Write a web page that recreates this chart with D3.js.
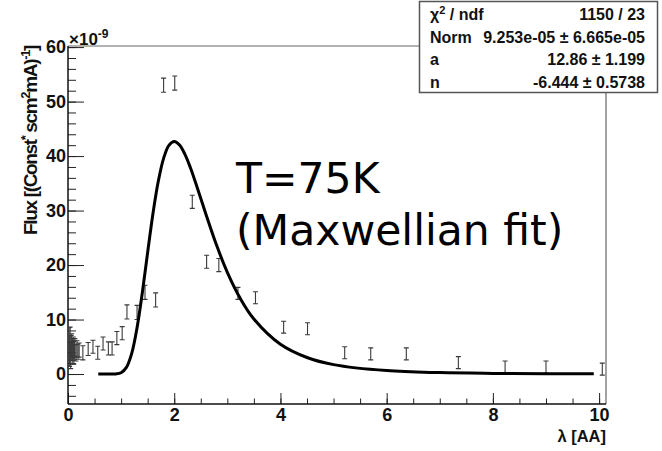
<!DOCTYPE html>
<html><head><meta charset="utf-8">
<script src="https://cdn.jsdelivr.net/npm/d3@7"></script>
<style>body{margin:0;background:#fff;} svg{display:block;}</style>
</head><body>
<svg id="chart" width="662" height="451"></svg>
<script>
// ---- data ----
const pointX = [0.02,0.03,0.04,0.05,0.06,0.07,0.08,0.09,0.10,0.11,0.12,0.13,0.15,0.17,0.19,
                0.21,0.28,0.38,0.47,0.56,0.66,0.76,0.83,0.92,1.02,1.11,1.30,1.45,1.65,1.80,2.01,
                2.34,2.61,2.84,3.20,3.53,4.06,4.51,5.21,5.70,6.37,7.35,8.23,9.00,10.06];
const pointY = [5.5,4.2,6.0,3.5,4.8,5.2,3.8,4.5,5.0,3.6,4.4,4.9,3.9,4.6,4.1,
                4.4,3.9,4.6,5.0,3.9,5.6,4.7,4.7,6.6,7.5,11.4,11.3,15.0,13.6,53.0,53.4,
                31.6,20.6,20.0,14.8,14.0,8.6,8.3,3.9,3.7,3.7,2.1,1.3,1.3,0.9];
const pointErr = [3.0,2.8,2.6,2.5,2.3,2.2,2.0,2.0,1.8,1.8,1.7,1.6,1.5,1.5,1.4,
                  1.3,1.3,1.2,1.2,1.2,1.2,1.2,1.2,1.2,1.2,1.3,1.3,1.3,1.3,1.3,1.3,
                  1.2,1.2,1.2,1.1,1.1,1.1,1.1,1.1,1.1,1.1,1.1,1.1,1.1,1.1];
const fitX = [0.57,0.7,0.8,0.9,1.0,1.1,1.2,1.3,1.4,1.5,1.6,1.7,1.8,1.9,2.0,2.1,2.2,2.3,2.4,
              2.6,2.8,3.0,3.25,3.5,4.0,4.5,5.0,6.0,7.0,8.0,9.0,9.9];
const fitY = [0,0,0.001,0.02,0.24,1.21,3.78,8.47,14.97,22.35,29.47,35.37,39.58,41.97,42.68,42.03,40.35,37.99,35.20,
              29.24,23.57,18.67,13.77,10.10,5.46,3.03,1.73,0.63,0.26,0.12,0.06,0.03];
const xTickLabels = [0,2,4,6,8,10];
const yTickLabels = [0,10,20,30,40,50,60];
const statNames = ["χ² / ndf","Norm","a","n"];
const statValues = ["1150 / 23","9.253e-05 ± 6.665e-05","12.86 ± 1.199","-6.444 ± 0.5738"];
const noteLines = ["T=75K","(Maxwellian fit)"];

// ---- layout ----
const svg = d3.select("#chart");
svg.append("rect").attr("width",662).attr("height",451).attr("fill","#fff");
const F = {left:68,right:606,top:46,bottom:404};
const x = d3.scaleLinear().domain([0,10.13]).range([F.left,F.right]);
const y = d3.scaleLinear().domain([-5.5,60.2]).range([F.bottom,F.top]);
const bold = "'Liberation Sans', Arial, Helvetica, sans-serif";

svg.append("defs").append("clipPath").attr("id","clip")
  .append("rect").attr("x",F.left).attr("y",F.top).attr("width",F.right-F.left).attr("height",F.bottom-F.top);

// frame top/right
svg.append("path").attr("d",`M${F.left},${F.top}H${F.right}V${F.bottom}`)
  .attr("fill","none").attr("stroke","#666").attr("stroke-width",1.2);

// x axis
const xMinor = d3.range(0,10.01,0.5);
const gxm = svg.append("g").attr("transform",`translate(0,${F.bottom})`)
  .call(d3.axisBottom(x).tickValues(xMinor).tickSize(-5.5).tickFormat(""));
const gx = svg.append("g").attr("transform",`translate(0,${F.bottom})`)
  .call(d3.axisBottom(x).tickValues(xTickLabels).tickSize(-11).tickPadding(4).tickFormat(d3.format("d")));
// y axis
const yMinor = d3.range(-4,60.01,2);
const gym = svg.append("g").attr("transform",`translate(${F.left},0)`)
  .call(d3.axisLeft(y).tickValues(yMinor).tickSize(-8).tickFormat(""));
const gy = svg.append("g").attr("transform",`translate(${F.left},0)`)
  .call(d3.axisLeft(y).tickValues(yTickLabels).tickSize(-16).tickPadding(2).tickFormat(d3.format("d")));
[gxm,gx,gym,gy].forEach(g=>{
  g.select(".domain").remove();
  g.selectAll(".tick line").attr("stroke","#222").attr("stroke-width",1);
  g.selectAll("text").attr("font-family",bold).attr("font-weight","bold").attr("font-size",18).attr("fill","#111");
});
// axis lines
svg.append("line").attr("x1",F.left).attr("x2",F.right).attr("y1",F.bottom).attr("y2",F.bottom)
  .attr("stroke","#111").attr("stroke-width",1.5);
svg.append("line").attr("x1",F.left).attr("x2",F.left).attr("y1",F.top).attr("y2",F.bottom)
  .attr("stroke","#111").attr("stroke-width",1.5);

// exponent
const ex = svg.append("text").attr("x",F.left+1).attr("y",F.top-1)
  .attr("font-family",bold).attr("font-weight","bold").attr("font-size",17).attr("fill","#111");
ex.append("tspan").text("×10");
ex.append("tspan").attr("dy",-7).attr("font-size",12).text("-9");

// axis titles
svg.append("text").attr("x",F.right).attr("y",442).attr("text-anchor","end")
  .attr("font-family",bold).attr("font-weight","bold").attr("font-size",16.5).attr("fill","#111")
  .text("λ [AA]");
const yt = svg.append("text").attr("transform",`translate(37,${F.top}) rotate(-90)`).attr("text-anchor","end")
  .attr("font-family",bold).attr("font-weight","bold").attr("font-size",19).attr("fill","#111");
yt.append("tspan").text("Flux [(Const");
yt.append("tspan").attr("dy",-7).attr("font-size",13).text("*");
yt.append("tspan").attr("dy",7).text(" scm");
yt.append("tspan").attr("dy",-7).attr("font-size",13).text("2");
yt.append("tspan").attr("dy",7).text("mA)");
yt.append("tspan").attr("dy",-7).attr("font-size",13).text("-1");
yt.append("tspan").attr("dy",7).text("]");
{
  const len = yt.node().getComputedTextLength();
  const n = yt.text().length;
  yt.attr("letter-spacing", ((189 - len) / n).toFixed(2));
}

// data: error bars
const plot = svg.append("g").attr("clip-path","url(#clip)");
const pts = pointX.map((v,i)=>({x:v,y:pointY[i],e:pointErr[i]}));
const eb = plot.append("g").attr("stroke","#3a3a3a").attr("stroke-width",1.1).attr("fill","none");
eb.selectAll("path").data(pts).join("path")
  .attr("d",d=>{
    const cx=x(d.x), y1=y(d.y-d.e), y2=y(d.y+d.e);
    return `M${cx},${y1}V${y2}M${cx-2.5},${y1}H${cx+2.5}M${cx-2.5},${y2}H${cx+2.5}`;
  });

// fit curve
const fit = fitX.map((v,i)=>[v,fitY[i]]);
plot.append("path").datum(fit)
  .attr("d",d3.line().x(d=>x(d[0])).y(d=>y(d[1])).curve(d3.curveCatmullRom.alpha(0.5)))
  .attr("fill","none").attr("stroke","#000").attr("stroke-width",3).attr("stroke-linejoin","round");

// annotation
const note = svg.append("g").attr("font-family","'DejaVu Sans', Verdana, sans-serif").attr("font-size",42.5).attr("fill","#000");
note.selectAll("text").data(noteLines).join("text")
  .attr("x",236).attr("y",(d,i)=>193+i*52).text(d=>d);

// stats box
const box = svg.append("g");
box.append("rect").attr("x",419.5).attr("y",1.5).attr("width",238).attr("height",91)
  .attr("fill","#fff").attr("stroke","#555").attr("stroke-width",1.5);
const sg = box.append("g").attr("font-family",bold).attr("font-weight","bold").attr("font-size",16).attr("fill","#111");
statNames.forEach((n,i)=>{
  const t = sg.append("text").attr("x",430).attr("y",20+i*22.7);
  if(i===0){ t.append("tspan").text("χ"); t.append("tspan").attr("dy",-6).attr("font-size",11).text("2"); t.append("tspan").attr("dy",6).text(" / ndf"); }
  else t.text(n);
  sg.append("text").attr("x",645).attr("y",20+i*22.7).attr("text-anchor","end").text(statValues[i]);
});
</script>
</body></html>
